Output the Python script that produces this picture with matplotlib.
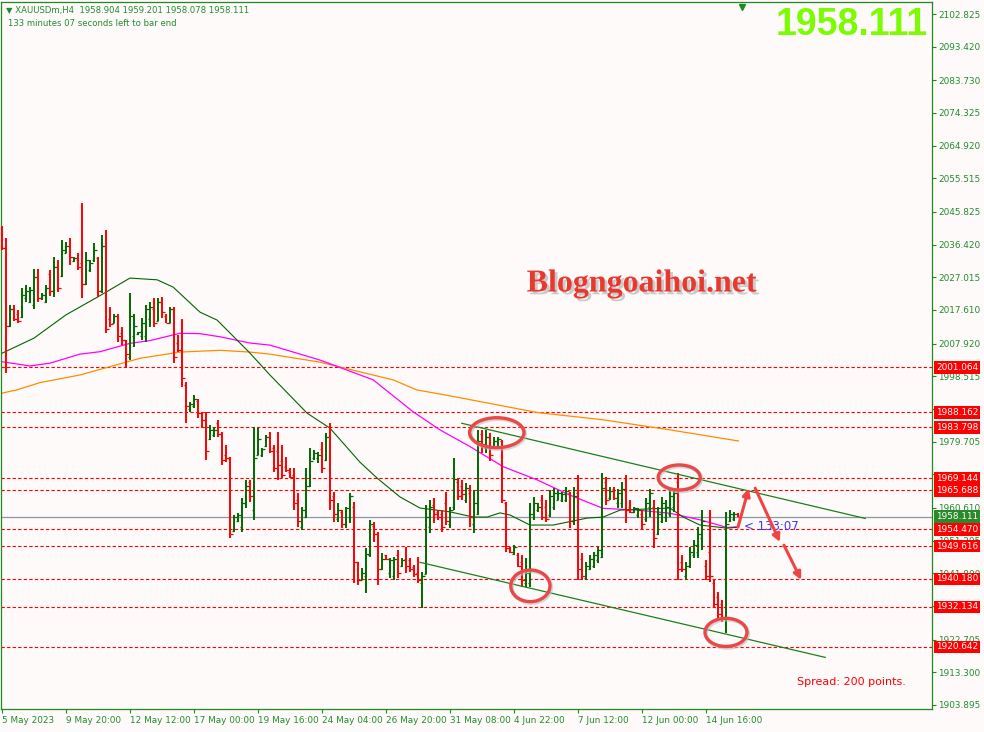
import matplotlib
matplotlib.use("Agg")
import matplotlib.pyplot as plt
import matplotlib.patheffects as pe
import matplotlib.transforms as mtransforms
from matplotlib.patches import Ellipse

plt.rcParams['font.family'] = ['DejaVu Sans']
plt.rcParams['lines.scale_dashes'] = False

# Datos XAUUSDm H4
aperturas = [
    2041, 2035.5, 2013, 2018, 2016.5, 2015.5, 2021, 2020, 2019, 2027,
    2021, 2020, 2028, 2023, 2030, 2027.5, 2034, 2036, 2031.8, 2032,
    2031, 2025, 2029, 2032, 2032.5, 2023, 2036, 2015, 2014, 2016,
    2011, 2009, 2004, 2010, 2010.6, 2010, 2010, 2015, 2018, 2014.5,
    2020, 2016, 2014, 2018, 2008, 2006, 1996, 1989, 1990, 1991.5,
    1988, 1986, 1980.5, 1981.5, 1985, 1982, 1976, 1975, 1954, 1957,
    1955, 1962, 1968, 1960, 1976, 1976, 1978.5, 1981, 1978, 1977,
    1974, 1972.5, 1971, 1970, 1963, 1955, 1958, 1967, 1975, 1975,
    1977.5, 1974.5, 1981, 1964, 1957.5, 1959.5, 1956, 1958, 1961, 1945,
    1940, 1941, 1947, 1955.5, 1953, 1943, 1947, 1942, 1941, 1947,
    1944, 1946, 1945.5, 1943.5, 1942, 1939, 1941.5, 1955, 1961.5, 1959.5,
    1959, 1962, 1956, 1961, 1968, 1967, 1963, 1965, 1956, 1959,
    1982, 1978, 1981, 1978, 1978.5, 1980, 1962, 1949, 1947.5, 1947,
    1945, 1939, 1939, 1958, 1960, 1963, 1961, 1958.5, 1961, 1963,
    1963, 1963, 1965, 1957, 1965, 1946, 1940.5, 1943, 1944, 1945.5,
    1946.5, 1968, 1963.5, 1966, 1962, 1962, 1966, 1961, 1959.5, 1958.5,
    1959, 1957.5, 1961, 1961, 1953, 1957, 1958, 1959, 1961, 1968,
    1945, 1941, 1944, 1947, 1948, 1952, 1944, 1948, 1939, 1935,
    1933, 1929, 1957, 1957.5, 1958.904,
]
maximos = [
    2041.8, 2038.4, 2019.0, 2019.0, 2017.6, 2023.9, 2024.8, 2024.3, 2029.4, 2029.4,
    2022.4, 2024.8, 2029.1, 2032.9, 2032.0, 2037.8, 2037.3, 2038.3, 2032.9, 2033.9,
    2048.5, 2034.4, 2032.0, 2036.8, 2032.9, 2039.2, 2040.6, 2018.6, 2016.6, 2016.6,
    2012.8, 2009.0, 2022.4, 2016.6, 2011.4, 2015.2, 2019.0, 2020.0, 2021.0, 2021.0,
    2021.4, 2016.6, 2018.6, 2018.6, 2010.4, 2014.9, 1997.0, 1991.2, 1993.1, 1991.9,
    1988.3, 1988.2, 1984.5, 1984.0, 1986.0, 1982.6, 1978.7, 1975.4, 1958.6, 1959.1,
    1963.4, 1968.7, 1968.7, 1984.0, 1983.5, 1977.9, 1981.6, 1982.6, 1978.7, 1982.6,
    1978.7, 1975.4, 1972.0, 1972.0, 1964.9, 1961.0, 1972.0, 1977.9, 1977.3, 1976.8,
    1979.7, 1982.1, 1985.0, 1965.3, 1962.0, 1960.0, 1961.0, 1964.8, 1962.4, 1945.1,
    1943.3, 1949.0, 1957.2, 1956.7, 1953.8, 1947.6, 1947.1, 1946.2, 1946.6, 1948.5,
    1946.2, 1949.5, 1946.1, 1944.2, 1946.6, 1942.3, 1961.5, 1962.9, 1963.4, 1960.0,
    1960.0, 1965.3, 1961.0, 1974.9, 1969.1, 1968.7, 1967.7, 1967.2, 1965.8, 1983.1,
    1983.1, 1983.1, 1982.1, 1981.1, 1981.1, 1980.2, 1962.4, 1949.5, 1950.0, 1947.6,
    1947.1, 1946.1, 1962.0, 1963.9, 1962.0, 1964.3, 1962.9, 1965.8, 1966.3, 1965.8,
    1965.3, 1966.7, 1965.3, 1966.7, 1970.1, 1947.6, 1945.1, 1947.1, 1948.0, 1949.5,
    1970.6, 1969.6, 1966.7, 1966.7, 1966.0, 1968.2, 1970.1, 1962.9, 1961.0, 1960.5,
    1960.0, 1963.4, 1966.0, 1962.9, 1961.0, 1963.9, 1962.9, 1965.8, 1966.3, 1970.6,
    1947.1, 1945.1, 1949.5, 1951.4, 1955.2, 1960.0, 1945.6, 1960.0, 1939.9, 1936.5,
    1934.1, 1959.5, 1960.0, 1959.5, 1959.201,
]
minimos = [
    2034.9, 1999.4, 2012.7, 2014.3, 2014.0, 2015.2, 2020.0, 2019.5, 2017.8, 2020.0,
    2020.5, 2019.5, 2021.6, 2021.4, 2022.9, 2027.0, 2033.9, 2030.6, 2031.5, 2029.1,
    2021.2, 2024.8, 2028.6, 2031.5, 2021.4, 2022.4, 2010.9, 2012.8, 2013.8, 2008.5,
    2007.5, 2000.8, 2003.2, 2007.0, 2010.4, 2009.0, 2008.5, 2012.8, 2012.8, 2014.3,
    2015.2, 2013.8, 2013.8, 2002.3, 2005.6, 1995.5, 1985.2, 1988.3, 1989.3, 1986.4,
    1983.5, 1974.4, 1980.2, 1981.1, 1981.1, 1973.0, 1973.9, 1951.9, 1953.8, 1956.7,
    1953.8, 1960.5, 1962.4, 1957.2, 1975.9, 1975.4, 1978.3, 1976.4, 1971.0, 1968.7,
    1969.1, 1971.0, 1969.1, 1960.0, 1955.2, 1954.3, 1957.6, 1966.7, 1974.4, 1973.5,
    1970.6, 1974.0, 1960.0, 1956.7, 1956.7, 1954.8, 1954.8, 1956.2, 1938.9, 1938.4,
    1939.9, 1936.0, 1946.6, 1950.9, 1938.4, 1942.8, 1945.6, 1940.4, 1940.0, 1940.4,
    1943.7, 1941.8, 1942.3, 1940.8, 1938.9, 1931.7, 1941.5, 1953.3, 1956.2, 1957.2,
    1953.8, 1955.7, 1954.8, 1960.0, 1962.9, 1962.9, 1962.0, 1955.2, 1953.3, 1958.6,
    1976.4, 1976.4, 1974.0, 1977.8, 1977.8, 1962.0, 1948.0, 1947.6, 1947.1, 1943.7,
    1938.0, 1938.0, 1938.0, 1957.2, 1959.5, 1957.2, 1956.7, 1958.1, 1960.0, 1962.9,
    1962.4, 1962.4, 1954.8, 1955.7, 1939.9, 1939.9, 1939.9, 1942.8, 1943.2, 1944.7,
    1946.1, 1961.5, 1962.9, 1962.9, 1960.5, 1960.5, 1956.2, 1959.1, 1959.1, 1957.6,
    1954.3, 1956.7, 1958.1, 1949.0, 1952.8, 1956.2, 1956.7, 1958.1, 1959.5, 1939.9,
    1942.3, 1939.9, 1943.2, 1946.1, 1946.1, 1948.5, 1939.9, 1939.4, 1931.7, 1928.4,
    1927.9, 1924.5, 1956.7, 1956.9, 1958.078,
]
cierres = [
    2035.5, 2013, 2018, 2015, 2014.5, 2022, 2023, 2023.5, 2027, 2021,
    2022, 2024, 2023, 2030, 2024, 2035, 2036, 2033, 2032.5, 2030,
    2025, 2032, 2031, 2035, 2023, 2036, 2012, 2013.5, 2016, 2010,
    2009, 2005, 2016, 2013, 2011.2, 2014, 2018, 2018.5, 2014, 2020,
    2017, 2014, 2018, 2004, 2006, 1998, 1990, 1990.5, 1992, 1988,
    1986, 1977, 1983, 1983, 1982, 1974.5, 1975, 1953, 1958, 1958.5,
    1962, 1967, 1964, 1975, 1980.5, 1977.5, 1981, 1977, 1972, 1973,
    1970, 1971.5, 1969.5, 1962, 1957, 1960, 1967, 1974, 1976.5, 1976,
    1972, 1981, 1963, 1959, 1960, 1956, 1960.5, 1964, 1945, 1940,
    1942, 1947.5, 1956, 1953, 1943, 1946, 1946, 1945.5, 1946, 1942,
    1945.5, 1944, 1943, 1941.5, 1940, 1941, 1958, 1961, 1959, 1958,
    1955, 1957, 1960, 1969, 1964, 1964.5, 1966.5, 1958, 1962, 1980,
    1979, 1981, 1976, 1980, 1980.5, 1963, 1949, 1948, 1949.5, 1944,
    1940, 1942, 1959, 1962, 1961, 1958, 1957.5, 1964, 1965, 1965,
    1964.5, 1965.5, 1957, 1964, 1943, 1941, 1944, 1946, 1947, 1948.5,
    1966.5, 1963, 1965.5, 1963.5, 1965, 1966, 1960, 1959.5, 1960.5, 1960,
    1956, 1962, 1965, 1952, 1959, 1962, 1961, 1964, 1965, 1943,
    1943, 1944, 1948, 1950, 1953, 1957, 1941, 1941, 1933, 1930,
    1929, 1956, 1959, 1958.9, 1958.111,
]

fechas = ['5 May 2023', '9 May 20:00', '12 May 12:00', '17 May 00:00', '19 May 16:00',
          '24 May 04:00', '26 May 20:00', '31 May 08:00', '4 Jun 22:00', '7 Jun 12:00',
          '12 Jun 00:00', '14 Jun 16:00']

escala_precios = [2102.825, 2093.420, 2083.730, 2074.325, 2064.920, 2055.515, 2045.825,
                  2036.420, 2027.015, 2017.610, 2007.920, 1998.515, 1989.110, 1979.705,
                  1970.300, 1960.610, 1951.205, 1941.800, 1932.395, 1922.705, 1913.300,
                  1903.895]
# etiquetas tapadas por completo por las cajas de nivel
ocultas = [1989.110, 1970.300, 1932.395]

niveles = [2001.064, 1988.162, 1983.798, 1969.144, 1965.688, 1954.470,
           1949.616, 1940.180, 1932.134, 1920.642]
precio_actual = 1958.111

# Medias moviles (barra, precio)
ma_rapida_x = [0, 7.9, 15.9, 23.9, 31.9, 38.7, 42.7, 49.4, 53.7, 56.9, 61.9, 66.9, 76.2,
               81.9, 89.4, 93.7, 99.4, 104.4, 111.9, 117.7, 121.2, 124.4, 126.9, 131.9,
               137.7, 146.2, 150.2, 154.4, 166.9, 170.2, 174.4, 181.2, 184]
ma_rapida_y = [2005.2, 2009.5, 2016.2, 2021.4, 2026.8, 2026.3, 2024.2, 2017.0, 2014.7,
               2011.0, 2005.2, 1998.9, 1987.9, 1983.6, 1973.8, 1969.2, 1963.8, 1960.6,
               1959.5, 1958.0, 1958.0, 1959.2, 1958.6, 1955.7, 1955.7, 1957.7, 1958.0,
               1960.0, 1960.6, 1958.0, 1955.7, 1954.8, 1955.1]
ma_media_x = [0, 6.9, 11.9, 19.4, 24.4, 31.9, 36.9, 44.4, 49.4, 54.4, 61.9, 66.9, 79.4,
              92.7, 102.7, 109.4, 116.9, 125.2, 133.7, 141.9, 150.2, 158.7, 166.9, 174.4,
              181.2, 184]
ma_media_y = [2002.7, 2001.5, 2002.3, 2004.9, 2005.6, 2008.0, 2008.8, 2010.9, 2010.8,
              2009.9, 2008.1, 2007.5, 2003.2, 1997.5, 1988.3, 1983.1, 1978.3, 1972.5,
              1968.7, 1964.3, 1960.5, 1960.0, 1959.1, 1957.2, 1955.0, 1955.2]
ma_lenta_x = [0, 3.6, 9.4, 19.4, 26.9, 34.4, 44.4, 54.4, 61.9, 66.9, 79.4, 89.4, 97.7,
              103.6, 111.9, 133.7, 150.2, 166.9, 184]
ma_lenta_y = [1993.7, 1994.6, 1996.7, 1998.9, 2001.3, 2003.7, 2005.5, 2006.0, 2005.5,
              2004.9, 2002.6, 1999.8, 1997.5, 1994.6, 1992.9, 1988.1, 1986.0, 1983.1,
              1979.9]

# Canal bajista (barra, precio)
canal_sup_x, canal_sup_y = [114.85, 215.7], [1985.0, 1957.6]
canal_inf_x, canal_inf_y = [104.4, 205.7], [1944.97, 1917.6]

# Circulos marcados (barra, precio, ancho en barras, alto en precio)
circulos = [(123.6, 1982.3, 13.6, 8.6), (132.0, 1938.2, 9.8, 9.1),
            (169.2, 1969.4, 10.5, 7.2), (180.9, 1924.8, 10.5, 8.1)]

# Flechas de proyeccion (desde, hasta)
flechas = [((183.9, 1955.1), (186.6, 1966.3)),
           ((188.2, 1966.3), (194.4, 1950.8)),
           ((195.4, 1949.9), (199.7, 1939.9))]

FONDO = '#FFFAFA'
VERDE = '#1E8A1E'
VERDE_BARRA = '#006A00'
ROJO = '#FF0000'
TEXTO = '#228B30'

fig = plt.figure(figsize=(9.84, 7.32), dpi=100, facecolor=FONDO)
ax = fig.add_axes([1 / 984, 23 / 732, 931 / 984, 707 / 732], facecolor=FONDO)

# Niveles horizontales
for nv in niveles:
    ax.axhline(nv, color=ROJO, lw=0.8, ls=(0, (2.4, 1.6)), zorder=1)
ax.axhline(precio_actual, color='#8A96A6', lw=0.9, zorder=1)

# Medias moviles
ax.plot(ma_lenta_x, ma_lenta_y, color='#FF8C00', lw=0.9, zorder=2)
ax.plot(ma_media_x, ma_media_y, color='#FF00FF', lw=0.9, zorder=2)
ax.plot(ma_rapida_x, ma_rapida_y, color='#006400', lw=0.8, zorder=2)

# Barras OHLC
for i, (o, h, l, c) in enumerate(zip(aperturas, maximos, minimos, cierres)):
    col = VERDE_BARRA if c >= o else ROJO
    ax.vlines(i, l, h, color=col, lw=1.4, zorder=3)
    ax.hlines(o, i - 0.6, i, color=col, lw=0.9, zorder=3)
    ax.hlines(c, i, i + 0.6, color=col, lw=0.9, zorder=3)

# Canal
ax.plot(canal_sup_x, canal_sup_y, color='#1A801A', lw=0.9, zorder=4)
ax.plot(canal_inf_x, canal_inf_y, color='#1A801A', lw=0.9, zorder=4)

for cx, cy, w, h in circulos:
    ax.add_patch(Ellipse((cx + 0.3, cy - 0.4), w, h, fill=False, ec='#BBBBBB', lw=2.8,
                         alpha=0.6, zorder=5))
    ax.add_patch(Ellipse((cx, cy), w, h, fill=False, ec='#E84848', lw=2.4, zorder=6))

for (x0, y0), (x1, y1) in flechas:
    ax.annotate('', xy=(x1, y1), xytext=(x0, y0),
                arrowprops=dict(arrowstyle='-|>', color='#EE4444', lw=2.2,
                                mutation_scale=11, shrinkA=0, shrinkB=0), zorder=6)

ax.text(185.4, 1955.3, '< 133:07', color='#3838FF', fontsize=8.5, va='center', ha='left',
        zorder=5)

ax.set_xlim(-0.33, 232.4)
ax.set_ylim(1902.74, 2106.28)

ax.set_xticks(range(0, len(aperturas), 16))
ax.set_xticklabels(fechas, ha='left')
ax.set_yticks(escala_precios)
ax.set_yticklabels(['' if p in ocultas else f'{p:.3f}' for p in escala_precios])
ax.tick_params(axis='x', direction='out', length=3, width=0.8, color=VERDE, pad=2,
               labelsize=6.4, labelcolor=TEXTO)
ax.tick_params(axis='y', direction='out', length=3, width=0.8, color=VERDE, pad=1.5,
               labelsize=6.4, labelcolor=TEXTO, left=False, labelleft=False,
               right=True, labelright=True)
for s in ax.spines.values():
    s.set_color(VERDE)
    s.set_linewidth(0.9)

# Etiquetas de niveles en la escala
trans = mtransforms.blended_transform_factory(ax.transAxes, ax.transData) + \
    mtransforms.ScaledTranslation(3 / 72, 0, fig.dpi_scale_trans)
for nv in niveles:
    ax.text(1.0, nv, f'{nv:.3f}', transform=trans, color='white', fontsize=6.4,
            va='center', ha='left', clip_on=False, zorder=10,
            bbox=dict(boxstyle='square,pad=0.2', fc=ROJO, ec='none'))
ax.text(1.0, precio_actual, f'{precio_actual:.3f}', transform=trans, color='white',
        fontsize=6.4, va='center', ha='left', clip_on=False, zorder=10,
        bbox=dict(boxstyle='square,pad=0.2', fc='#2A8A2A', ec='none'))

# Textos
fig.text(6 / 984, 1 - 11 / 732, '\u25BC XAUUSDm,H4  1958.904 1959.201 1958.078 1958.111',
         color=TEXTO, fontsize=6.1, va='center', ha='left')
fig.text(8 / 984, 1 - 23 / 732, '133 minutes 07 seconds left to bar end',
         color=TEXTO, fontsize=6.1, va='center', ha='left')
fig.text(928 / 984, 1 - 25 / 732, '1958.111', color='#7CFC00', fontsize=27,
         fontweight='bold', family='Liberation Sans', va='center', ha='right')
fig.text(642 / 984, 1 - 284 / 732, 'Blogngoaihoi.net', color='#E8392E', fontsize=23,
         fontweight='bold', family='Liberation Serif', va='center', ha='center',
         path_effects=[pe.withSimplePatchShadow(offset=(2, -2), shadow_rgbFace='#999999',
                                               alpha=0.5)])
fig.text(797 / 984, 1 - 682 / 732, 'Spread: 200 points.', color=ROJO, fontsize=8,
         va='center', ha='left')
ax.plot([(742 - 1) / 931], [0.993], marker='v', ms=5, color=VERDE,
        transform=ax.transAxes, clip_on=False)

fig.savefig('out.png', dpi=100, facecolor=FONDO)
